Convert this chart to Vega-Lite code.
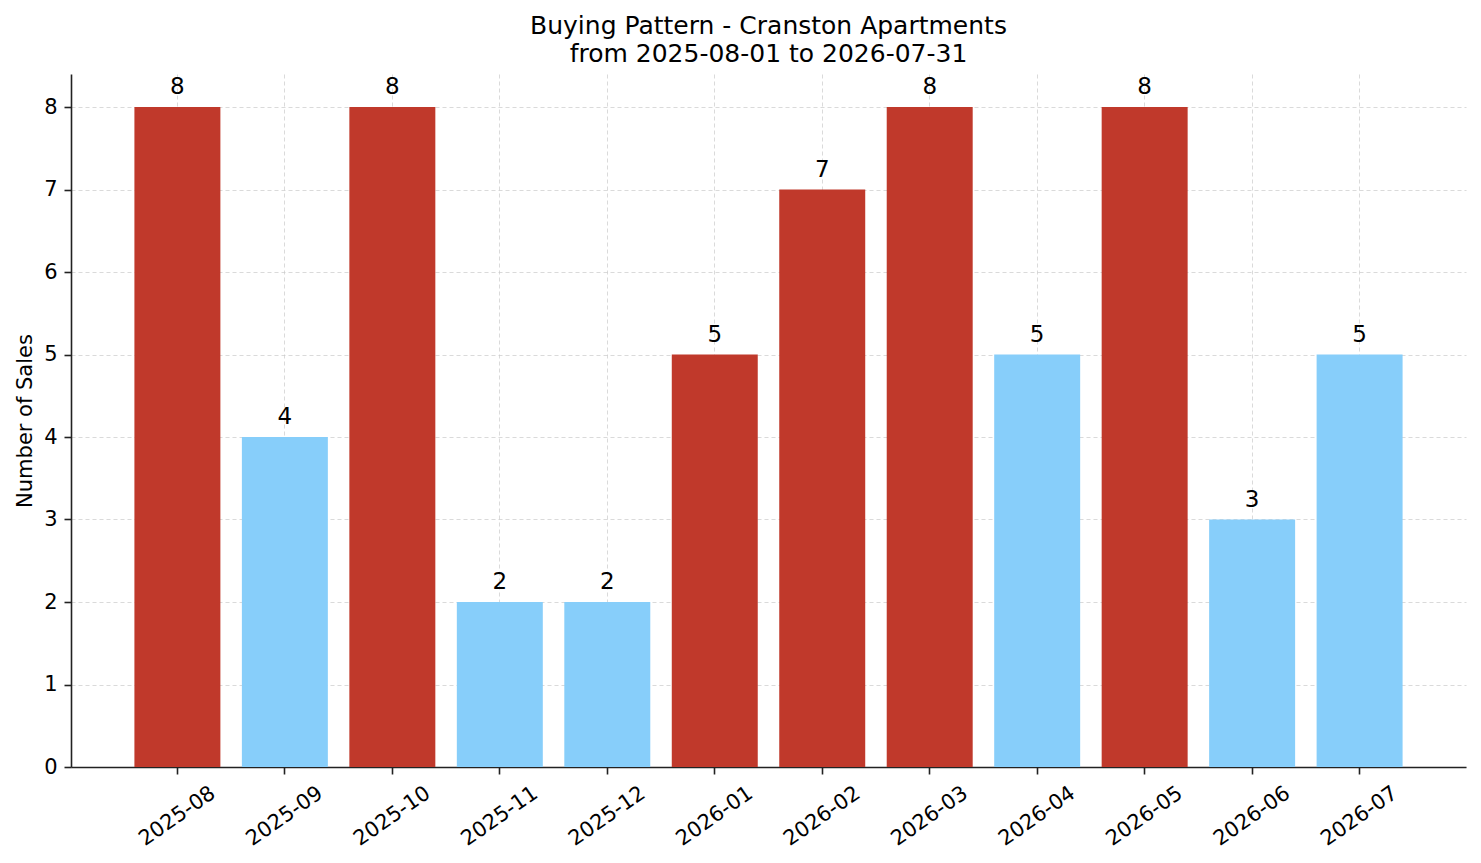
{
  "$schema": "https://vega.github.io/schema/vega-lite/v6.json",
  "width": 1395,
  "height": 693,
  "autosize": {"type": "none"},
  "padding": {"left": 71, "top": 74, "right": 15, "bottom": 96},
  "background": "white",
  "title": {
    "text": ["Buying Pattern - Cranston Apartments", "from 2025-08-01 to 2026-07-31"],
    "anchor": "middle",
    "frame": "group",
    "font": "DejaVu Sans",
    "fontSize": 25,
    "fontWeight": "normal",
    "color": "#000000",
    "lineHeight": 28,
    "offset": 7
  },
  "data": {
    "values": [
      {"month": "2025-08", "sales": 8, "group": "high"},
      {"month": "2025-09", "sales": 4, "group": "low"},
      {"month": "2025-10", "sales": 8, "group": "high"},
      {"month": "2025-11", "sales": 2, "group": "low"},
      {"month": "2025-12", "sales": 2, "group": "low"},
      {"month": "2026-01", "sales": 5, "group": "high"},
      {"month": "2026-02", "sales": 7, "group": "high"},
      {"month": "2026-03", "sales": 8, "group": "high"},
      {"month": "2026-04", "sales": 5, "group": "low"},
      {"month": "2026-05", "sales": 8, "group": "high"},
      {"month": "2026-06", "sales": 3, "group": "low"},
      {"month": "2026-07", "sales": 5, "group": "low"}
    ]
  },
  "encoding": {
    "x": {
      "field": "month",
      "type": "ordinal",
      "sort": null,
      "title": null,
      "scale": {"paddingInner": 0.2, "paddingOuter": 0.59},
      "axis": {
        "bandPosition": 0.5,
        "labelAngle": -35,
        "labelAlign": "center",
        "labelBaseline": "middle",
        "labelPadding": 42,
        "grid": true
      }
    },
    "y": {
      "field": "sales",
      "type": "quantitative",
      "title": "Number of Sales",
      "scale": {"domain": [0, 8.4], "nice": false},
      "axis": {
        "values": [0, 1, 2, 3, 4, 5, 6, 7, 8],
        "labelPadding": 7,
        "titlePadding": 8,
        "grid": true
      }
    }
  },
  "layer": [
    {
      "mark": {"type": "bar"},
      "encoding": {
        "color": {
          "field": "group",
          "type": "nominal",
          "scale": {"domain": ["high", "low"], "range": ["#C0392B", "#87CEFA"]},
          "legend": null
        }
      }
    },
    {
      "mark": {
        "type": "text",
        "baseline": "alphabetic",
        "dy": -13,
        "font": "DejaVu Sans",
        "fontSize": 23,
        "color": "#000000"
      },
      "encoding": {
        "text": {"field": "sales", "type": "quantitative"}
      }
    }
  ],
  "config": {
    "view": {"stroke": null},
    "axis": {
      "zindex": 1,
      "labelFont": "DejaVu Sans",
      "labelFontSize": 21,
      "labelColor": "#000000",
      "titleFont": "DejaVu Sans",
      "titleFontSize": 21,
      "titleFontWeight": "normal",
      "titleColor": "#000000",
      "domainColor": "#222222",
      "domainWidth": 1.6,
      "tickColor": "#222222",
      "tickWidth": 1.6,
      "tickSize": 7,
      "gridColor": "#c8c8c8",
      "gridDash": [4, 3],
      "gridWidth": 0.8,
      "gridOpacity": 0.85
    }
  }
}
